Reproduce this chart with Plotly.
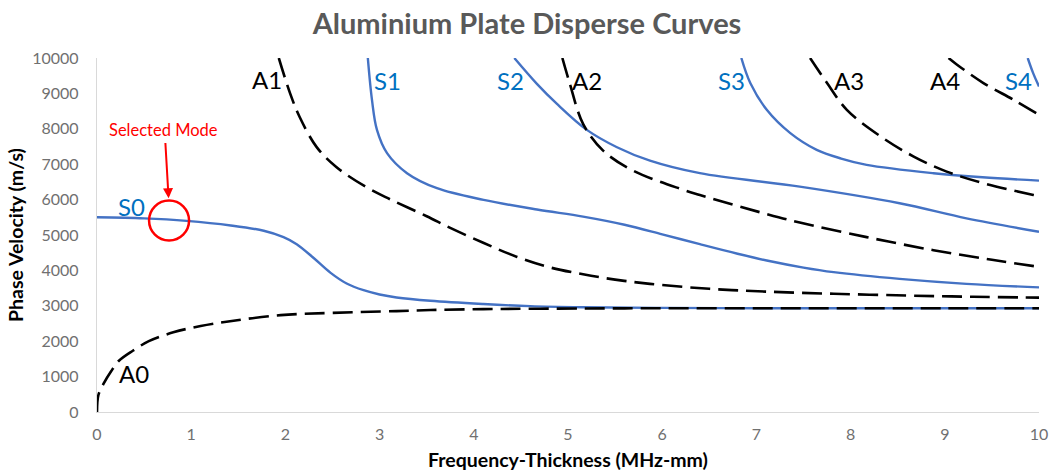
import plotly.graph_objects as go

# Lamb wave dispersion curves for an aluminium plate (phase velocity vs frequency-thickness)

# Symmetric modes
s0_fd = [0.0, 0.5, 0.95, 1.42, 1.77, 1.98, 2.12, 2.30, 2.48, 2.65, 2.83, 3.00, 3.18, 3.54, 4.10, 4.60, 5.16, 6.0, 7.0, 8.0, 9.0, 10.0]
s0_vp = [5500, 5470, 5400, 5270, 5120, 4940, 4740, 4350, 3930, 3630, 3440, 3320, 3236, 3141, 3050, 2990, 2960, 2940, 2932, 2930, 2930, 2930]

s1_fd = [2.875, 2.919, 2.972, 3.079, 3.291, 3.609, 4.104, 4.67, 5.16, 5.60, 6.00, 6.40, 6.80, 7.11, 7.50, 7.82, 8.52, 9.23, 10.0]
s1_vp = [10000, 8817, 7968, 7312, 6746, 6321, 5992, 5720, 5520, 5290, 5020, 4740, 4470, 4280, 4080, 3950, 3760, 3620, 3520]

s2_fd = [4.43, 4.67, 4.88, 5.20, 5.52, 5.87, 6.40, 7.46, 8.52, 9.23, 10.0]
s2_vp = [10000, 9270, 8710, 7970, 7480, 7100, 6746, 6367, 5897, 5470, 5093]

s3_fd = [6.84, 6.935, 7.11, 7.36, 7.64, 7.90, 8.17, 8.88, 9.40, 10.0]
s3_vp = [10000, 9293, 8537, 7878, 7405, 7160, 6981, 6746, 6630, 6537]

s4_fd = [9.88, 9.94, 10.0]
s4_vp = [10000, 9560, 9196]

# Antisymmetric modes
a0_fd = [0.0, 0.015, 0.07, 0.15, 0.23, 0.38, 0.55, 0.81, 1.10, 1.45, 1.95, 2.50, 3.18, 3.54, 4.10, 5.16, 6.0, 7.0, 8.0, 9.0, 10.0]
a0_vp = [0, 480, 800, 1150, 1440, 1730, 2000, 2250, 2430, 2580, 2736, 2800, 2850, 2880, 2905, 2925, 2930, 2930, 2930, 2930, 2930]

a1_fd = [1.93, 2.05, 2.15, 2.33, 2.54, 2.86, 3.11, 3.50, 3.75, 4.10, 4.46, 4.80, 5.16, 5.50, 5.87, 6.50, 7.11, 7.82, 8.60, 9.30, 10.0]
a1_vp = [10000, 9000, 8340, 7490, 6920, 6350, 6010, 5530, 5200, 4780, 4380, 4090, 3890, 3740, 3620, 3480, 3400, 3340, 3290, 3255, 3230]

a2_fd = [4.94, 5.02, 5.16, 5.37, 5.69, 6.22, 6.40, 7.11, 7.46, 8.17, 8.88, 9.50, 10.0]
a2_vp = [10000, 9270, 8140, 7390, 6820, 6280, 6130, 5590, 5350, 4940, 4570, 4300, 4100]

a3_fd = [7.57, 7.75, 7.96, 8.32, 8.67, 9.02, 9.41, 9.94, 10.0]
a3_vp = [10000, 9293, 8537, 7783, 7217, 6791, 6463, 6132, 6100]

a4_fd = [9.04, 9.13, 9.41, 9.73, 10.0]
a4_vp = [10000, 9811, 9293, 8820, 8396]

# Mode labels: name, fd, vp
label_names = ["S0", "S1", "S2", "S3", "S4", "A0", "A1", "A2", "A3", "A4"]
label_fd = [0.37, 3.08, 4.39, 6.74, 9.78, 0.39, 1.80, 5.20, 7.98, 9.00]
label_vp = [5800, 9360, 9360, 9360, 9360, 1087, 9386, 9360, 9360, 9360]

# Highlighted operating point
selected_text = "Selected Mode"
selected_fd = 0.765
selected_vp = 5410
arrow_tail_fd = 0.725
arrow_tail_vp = 7640
arrow_tip_vp = 6039
text_fd = 0.707
text_vp = 7971

x_ticks = list(range(0, 11))
y_ticks = list(range(0, 10001, 1000))
y_tick_text = [str(v) for v in y_ticks]

BLUE = "#4472C4"
LABEL_BLUE = "#0070C0"
FONT = "Lato"

fig = go.Figure()

sym = [(s0_fd, s0_vp, "S0"), (s1_fd, s1_vp, "S1"), (s2_fd, s2_vp, "S2"),
       (s3_fd, s3_vp, "S3"), (s4_fd, s4_vp, "S4")]
anti = [(a0_fd, a0_vp, "A0"), (a1_fd, a1_vp, "A1"), (a2_fd, a2_vp, "A2"),
        (a3_fd, a3_vp, "A3"), (a4_fd, a4_vp, "A4")]

for fd, vp, name in sym:
    fig.add_trace(go.Scatter(x=fd, y=vp, mode="lines", name=name,
                             line=dict(color=BLUE, width=2.4, shape="spline", smoothing=1.0)))
for fd, vp, name in anti:
    fig.add_trace(go.Scatter(x=fd, y=vp, mode="lines", name=name,
                             line=dict(color="black", width=2.6, dash="20px,8px",
                                       shape="spline", smoothing=1.0)))

for name, fx, vy in zip(label_names, label_fd, label_vp):
    fig.add_annotation(x=fx, y=vy, text=name, showarrow=False,
                       font=dict(family=FONT, size=24,
                                 color=LABEL_BLUE if name.startswith("S") else "black"))

# Selected mode marker, arrow and caption
fig.add_shape(type="circle", xref="x", yref="y", xsizemode="pixel", ysizemode="pixel",
              xanchor=selected_fd, yanchor=selected_vp, x0=-20, x1=20, y0=-20, y1=20,
              line=dict(color="#FF0000", width=2.5))
fig.add_annotation(x=selected_fd - 0.005, y=arrow_tip_vp, ax=arrow_tail_fd, ay=arrow_tail_vp,
                   axref="x", ayref="y", text="", showarrow=True,
                   arrowhead=2, arrowsize=1, arrowwidth=2, arrowcolor="#FF0000")
fig.add_annotation(x=text_fd, y=text_vp, text=selected_text, showarrow=False,
                   font=dict(family=FONT, size=16.5, color="#FF0000"))

fig.update_layout(
    width=1054, height=472,
    margin=dict(l=97, r=15, t=58, b=60),
    paper_bgcolor="white", plot_bgcolor="white",
    showlegend=False,
    title=dict(text="<b>Aluminium Plate Disperse Curves</b>", x=0.5, xanchor="center",
               y=1 - 24 / 472, yanchor="middle",
               font=dict(family=FONT, size=29, color="#595959")),
    font=dict(family=FONT),
)
fig.update_xaxes(range=[0, 10], tickvals=x_ticks, showgrid=False, zeroline=False,
                 showline=True, linecolor="#D9D9D9", linewidth=1.3, ticks="",
                 ticklabelstandoff=8, automargin=False,
                 tickfont=dict(family=FONT, size=16, color="#707070"),
                 title=dict(text="<b>Frequency-Thickness (MHz-mm)</b>", standoff=11,
                            font=dict(family=FONT, size=19.5, color="black")))
fig.update_yaxes(range=[0, 10000], tickvals=y_ticks, ticktext=y_tick_text,
                 showgrid=False, zeroline=False,
                 showline=True, linecolor="#D9D9D9", linewidth=1.3, ticks="",
                 ticklabelstandoff=14, automargin=False,
                 tickfont=dict(family=FONT, size=16, color="#707070"),
                 title=dict(text="<b>Phase Velocity (m/s)</b>", standoff=3,
                            font=dict(family=FONT, size=19.5, color="black")))

fig.write_html("out.html")
